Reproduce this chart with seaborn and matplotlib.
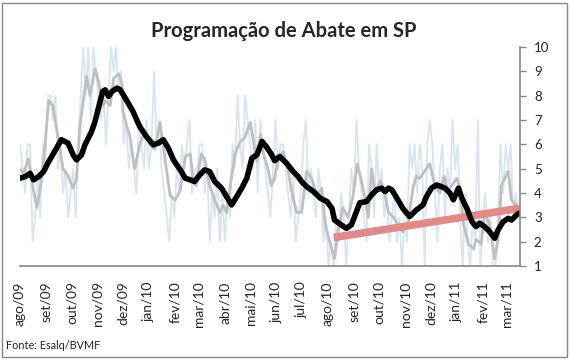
import matplotlib
matplotlib.use('Agg')

import matplotlib.pyplot as plt
import numpy as np
import pandas as pd
import seaborn as sns

# day offsets counted from 2009-08-01
START = '2009-08-01'

month_labels = ['ago/09', 'set/09', 'out/09', 'nov/09', 'dez/09', 'jan/10',
                'fev/10', 'mar/10', 'abr/10', 'mai/10', 'jun/10', 'jul/10',
                'ago/10', 'set/10', 'out/10', 'nov/10', 'dez/10', 'jan/11',
                'fev/11', 'mar/11']

# daily scheduling (light blue), one reading every 3 days
daily_days = np.arange(0, 592, 3)
daily_vals = [6, 5, 4, 6, 6, 2, 3, 5, 3, 6,
              5, 8, 8, 7, 8, 5, 6, 4, 5, 3,
              4, 5, 3, 6, 8, 10, 8, 10, 7, 10,
              9, 8, 7, 8, 6, 8, 10, 9, 10, 8,
              9, 6, 7, 5, 6, 5, 4, 7, 6, 5,
              7, 5, 6, 9, 6, 7, 5, 4, 3, 2,
              4, 3, 5, 4, 6, 5, 6, 7, 4, 5,
              5, 6, 6, 4, 5, 2, 4, 3, 5, 2,
              4, 2, 4, 3, 6, 5, 8, 6, 5, 8,
              7, 6, 5, 7, 4, 7, 6, 5, 4, 3,
              5, 7, 5, 6, 6, 5, 4, 3, 5, 2,
              3, 4, 6, 7, 4, 5, 4, 3, 5, 4,
              2, 3, 1, 2, 1, 3, 2, 4, 3, 1,
              3, 5, 4, 7, 5, 4, 3, 2, 6, 5,
              3, 6, 4, 5, 3, 4, 2, 3, 4, 2,
              3, 1, 3, 2, 6, 5, 6, 4, 6, 5,
              1, 6, 7, 6, 4, 2, 5, 6, 3, 5,
              4, 7, 5, 6, 3, 1, 4, 2, 1, 3,
              2, 7, 1, 3, 4, 2, 3, 1, 1, 3,
              6, 4, 6, 5, 6, 3, 4, 3]

# short moving average (gray)
short_days = [0, 4, 10, 16, 20, 24, 28, 34, 39, 45, 51, 57, 63, 67, 71, 75,
              79, 83, 89, 93, 99, 101, 107, 111, 117, 121, 122, 126, 130, 136,
              142, 148, 154, 160, 166, 172, 178, 184, 190, 196, 202, 205, 209,
              215, 219, 225, 231, 237, 241, 245, 249, 255, 261, 267, 273, 277,
              281, 285, 288, 294, 298, 302, 306, 312, 318, 322, 328, 334, 340,
              346, 352, 358, 362, 368, 373, 377, 383, 389, 395, 400, 405, 409,
              413, 417, 421, 427, 431, 437, 443, 448, 454, 460, 466, 470, 474,
              480, 486, 492, 498, 503, 507, 512, 518, 522, 526, 532, 538, 541,
              547, 551, 557, 563, 567, 571, 575, 579, 583, 589, 592]
short_vals = [5.0, 4.8, 5.4, 4.1, 3.4, 4.2, 5.3, 7.8, 7.6, 6.3, 5.0, 4.7,
              4.2, 4.6, 6.7, 7.8, 8.8, 8.0, 9.1, 8.6, 7.6, 7.8, 7.6, 8.7, 8.9,
              8.5, 7.4, 6.8, 6.4, 5.0, 6.0, 6.5, 6.0, 5.8, 6.9, 5.4, 3.9, 3.7,
              4.1, 5.5, 5.6, 4.6, 4.3, 5.6, 5.4, 4.3, 3.7, 3.2, 3.5, 3.2, 4.2,
              5.6, 6.1, 6.3, 6.9, 6.1, 5.3, 6.4, 5.7, 5.0, 4.3, 4.6, 5.4, 5.7,
              4.9, 4.1, 3.2, 3.2, 4.9, 4.6, 3.9, 4.2, 2.7, 1.9, 1.3, 2.4, 3.4,
              3.0, 3.9, 5.2, 4.5, 3.8, 3.0, 5.0, 4.0, 4.5, 4.2, 3.2, 3.0, 2.7,
              2.4, 2.7, 4.2, 4.7, 4.6, 4.9, 5.2, 4.3, 4.0, 4.7, 4.1, 4.3, 4.6,
              4.2, 2.7, 1.9, 1.7, 2.1, 1.9, 3.2, 2.7, 1.3, 2.1, 4.3, 4.6, 4.9,
              3.7, 3.5, 3.2]

# long moving average (black)
long_days = [0, 6, 12, 16, 22, 28, 34, 41, 49, 57, 63, 67, 73, 77, 85, 89,
             93, 98, 101, 105, 109, 115, 119, 126, 134, 142, 150, 158, 164,
             170, 176, 182, 190, 196, 202, 207, 213, 219, 225, 231, 239, 245,
             251, 257, 263, 269, 275, 281, 287, 292, 298, 302, 308, 316, 324,
             330, 334, 340, 348, 356, 364, 370, 373, 381, 387, 393, 399, 403,
             411, 417, 423, 429, 433, 437, 441, 447, 454, 462, 470, 478, 482,
             488, 494, 500, 504, 510, 514, 520, 524, 530, 536, 541, 545, 551,
             557, 563, 567, 573, 579, 583, 589, 592]
long_vals = [4.61, 4.67, 4.81, 4.54, 4.67, 4.88, 5.29, 5.70, 6.19, 6.05, 5.57,
             5.36, 5.57, 5.98, 6.53, 6.94, 7.49, 8.17, 8.24, 7.97, 8.17, 8.31,
             8.24, 7.83, 7.35, 6.73, 6.32, 5.98, 6.05, 6.19, 5.84, 5.36, 4.95,
             4.61, 4.54, 4.47, 4.74, 4.95, 4.88, 4.47, 4.20, 3.85, 3.51, 3.85,
             4.20, 4.61, 5.43, 5.57, 6.12, 5.91, 5.60, 5.33, 5.50, 5.23, 4.88,
             4.67, 4.47, 4.26, 4.06, 3.79, 3.65, 3.37, 2.89, 2.69, 2.55, 2.69,
             3.23, 3.60, 3.65, 3.92, 4.13, 4.20, 4.06, 4.20, 4.13, 3.79, 3.37,
             3.03, 3.30, 3.51, 3.85, 4.20, 4.33, 4.26, 4.20, 3.99, 3.72, 4.20,
             3.79, 3.37, 2.82, 2.62, 2.76, 2.62, 2.41, 2.14, 2.48, 2.82, 2.96,
             2.89, 3.10, 3.17]

# trend since ago/10 (pink)
trend_days = [372, 592]
trend_vals = [2.17, 3.37]


def draw_chart():
    sns.set_style('white')
    plt.rcParams['font.family'] = ['Lato', 'DejaVu Sans']

    fig = plt.figure(figsize=(5.7, 3.6), dpi=100)
    ax = fig.add_axes([20 / 570, 1 - 266 / 360, 500 / 570, 219 / 360])

    sns.lineplot(x=daily_days, y=daily_vals, ax=ax, color='#d9e4f1', lw=1.3)
    sns.lineplot(x=short_days, y=short_vals, ax=ax, color='#bfbfbf', lw=2.0)
    sns.lineplot(x=trend_days, y=trend_vals, ax=ax, color='#e08a8a', lw=5.5,
                 solid_capstyle='butt')
    sns.lineplot(x=long_days, y=long_vals, ax=ax, color='black', lw=4.0)

    month_starts = pd.date_range(START, periods=len(month_labels), freq='MS')
    tick_days = (month_starts - pd.Timestamp(START)).days
    ax.set_xticks(tick_days)
    ax.set_xticklabels(month_labels, rotation=90, fontsize=10)
    ax.set_xlim(0, 593)

    ax.set_ylim(1, 10)
    ax.set_yticks(range(1, 11))
    ax.yaxis.tick_right()
    ax.tick_params(axis='y', labelsize=9.5, length=4, width=1,
                   color='#868686', direction='out', pad=6)
    ax.tick_params(axis='x', length=5, width=1, color='#868686',
                   direction='out', pad=6)

    for side in ['left', 'top']:
        ax.spines[side].set_visible(False)
    for side in ['bottom', 'right']:
        ax.spines[side].set_color('#868686')
        ax.spines[side].set_linewidth(1.2)

    fig.text(0.497, 0.915, 'Programação de Abate em SP', ha='center',
             va='center', fontsize=14.5, fontweight='bold')
    fig.text(0.01, 0.04, 'Fonte: Esalq/BVMF', fontsize=7.8, va='center')

    fig.patches.append(plt.Rectangle((0.004, 0.008), 0.99, 0.985,
                                     transform=fig.transFigure, fill=False,
                                     edgecolor='#868686', lw=1))

    fig.savefig('out.png', dpi=100)
    plt.close()


draw_chart()
